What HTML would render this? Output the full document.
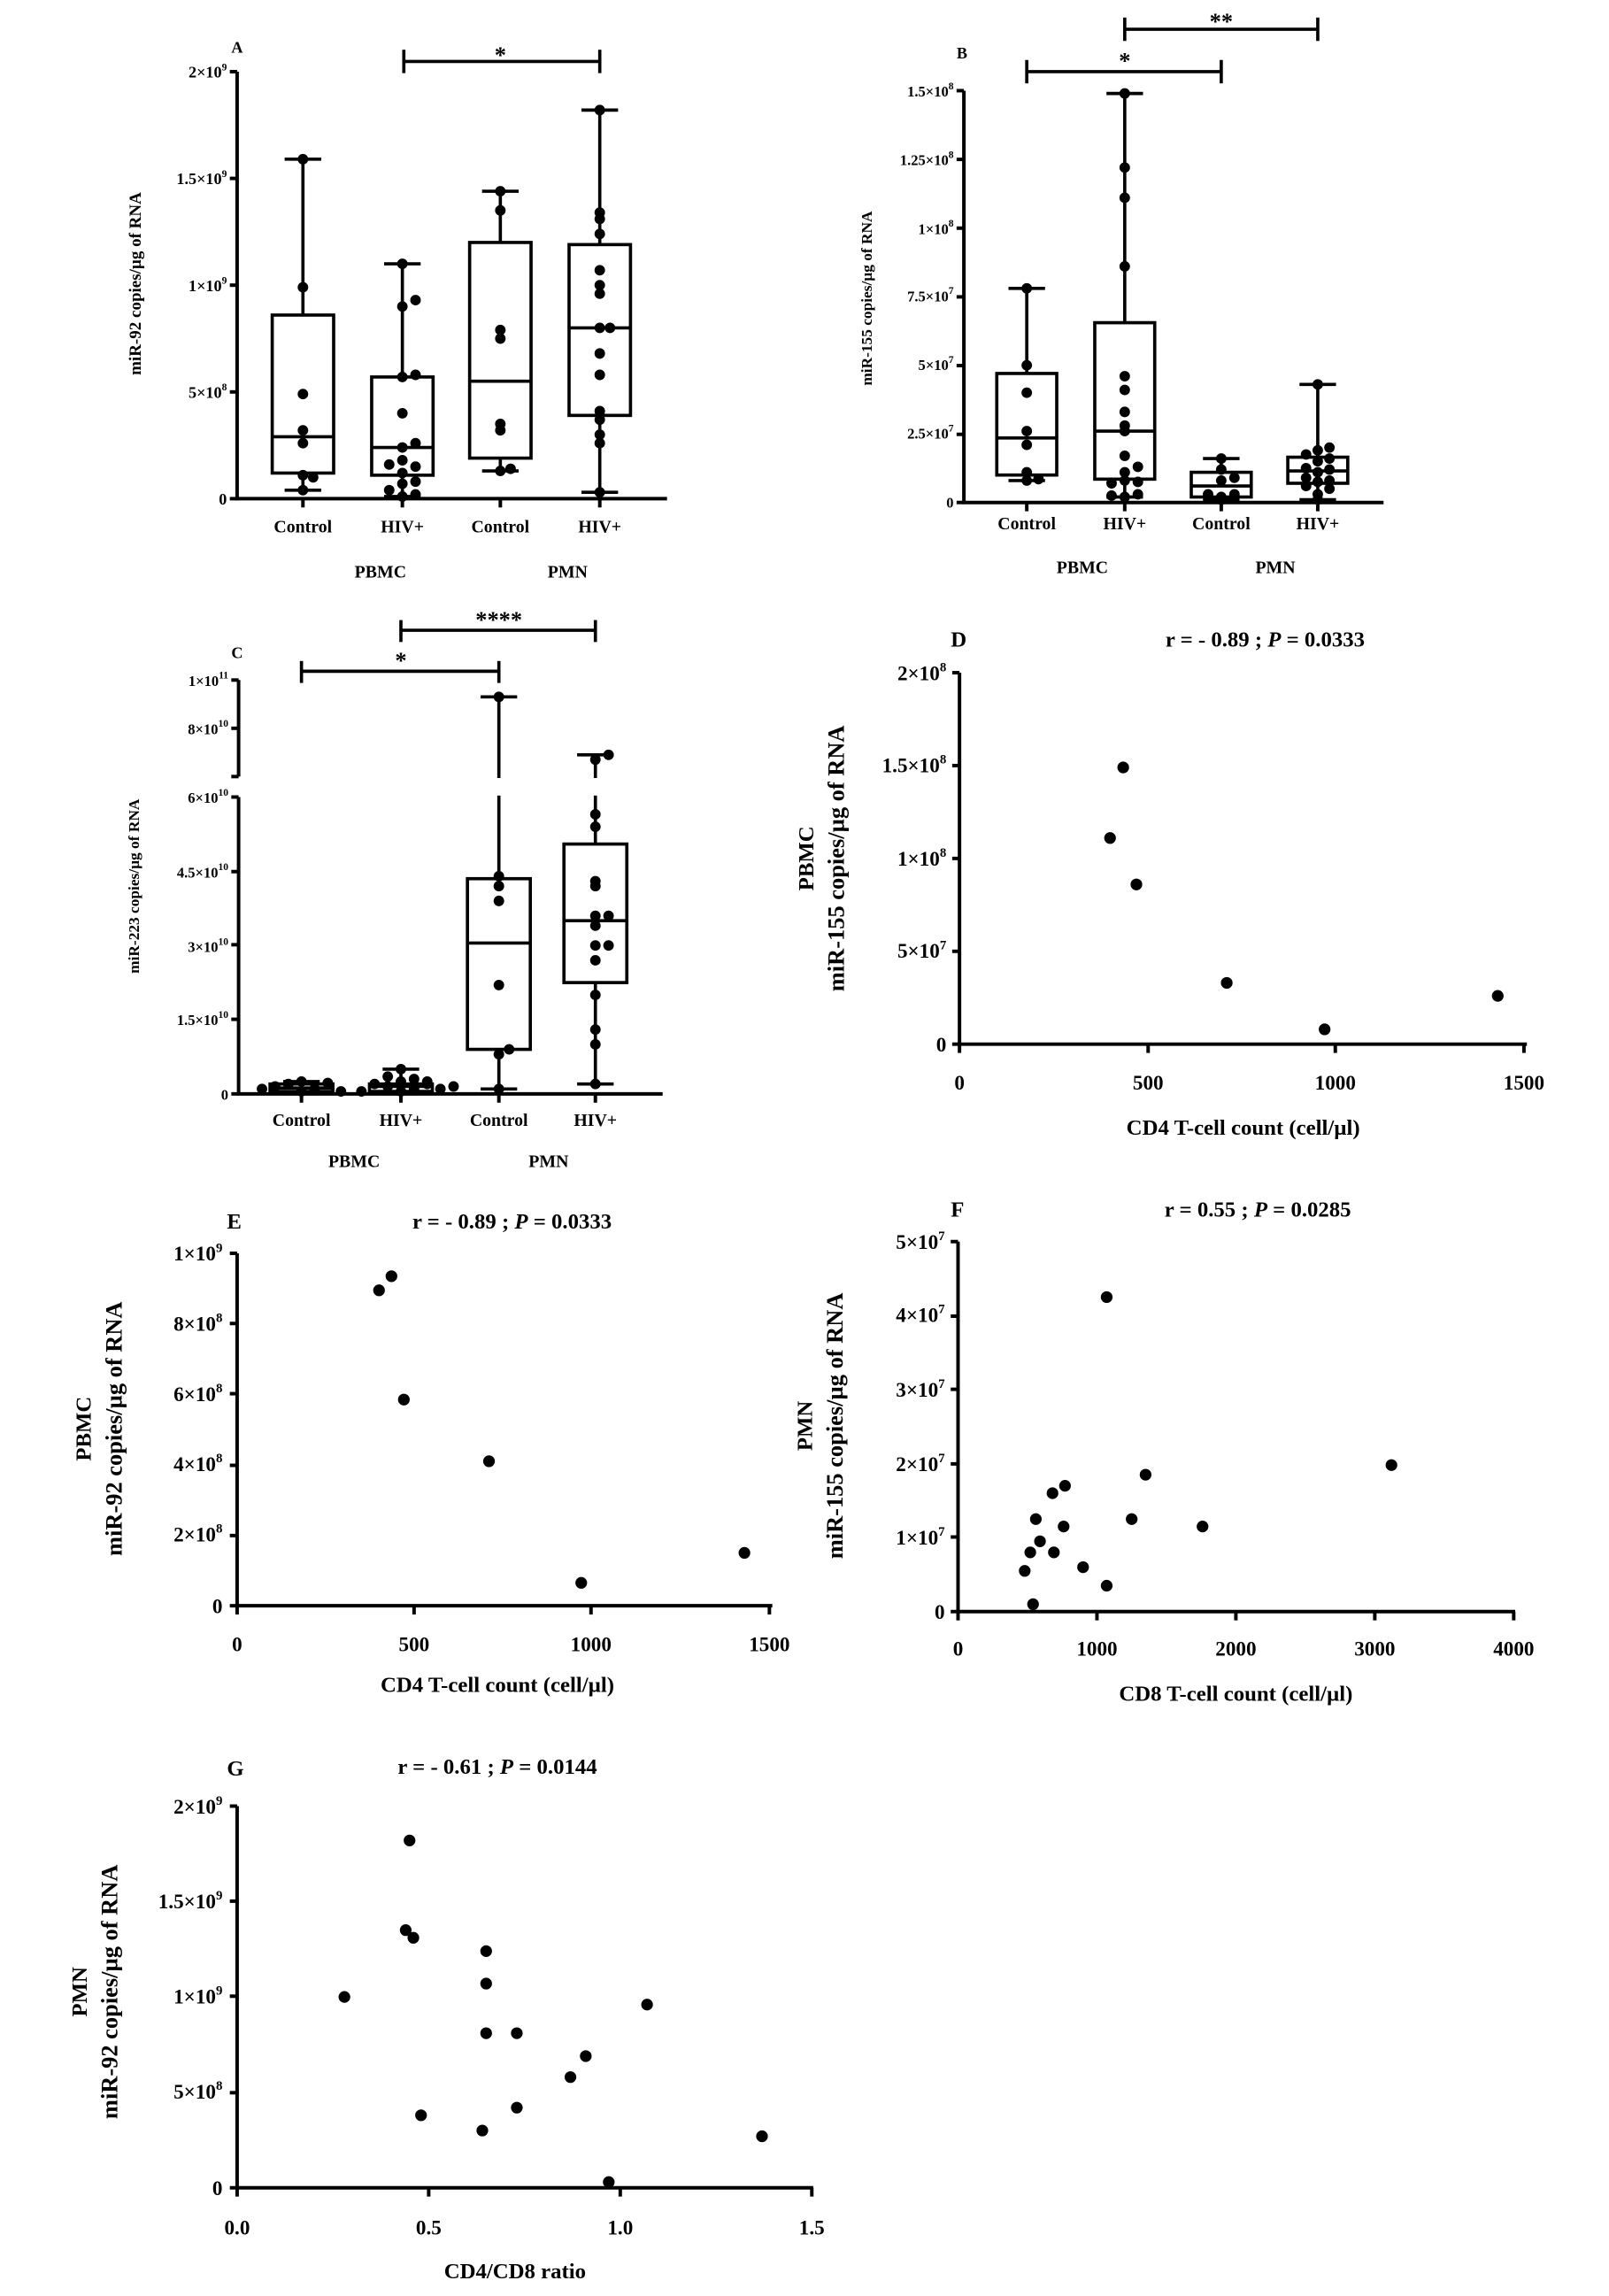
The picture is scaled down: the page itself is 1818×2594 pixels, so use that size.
<!DOCTYPE html>
<html><head><meta charset="utf-8"><style>
html,body{margin:0;padding:0;background:#fff}
svg{display:block}
text{font-family:"Liberation Serif",serif;font-weight:bold;fill:#000}
</style></head><body>
<svg id="s" width="1818" height="2594" viewBox="0 0 1100 1570" xmlns="http://www.w3.org/2000/svg">
<rect width="1100" height="1570" fill="#fff"/>
<g id="shapes" stroke="#000" fill="none" stroke-width="2.2"></g>
<g id="dots" fill="#000"></g>

<!-- Panel A text -->
<g font-size="11">
<text x="158" y="36" font-size="11">A</text>
<text x="342" y="43" font-size="16" text-anchor="middle">*</text>
<g text-anchor="end">
<text x="155" y="53">2×10<tspan dy="-5" font-size="7">9</tspan></text>
<text x="155" y="126">1.5×10<tspan dy="-5" font-size="7">9</tspan></text>
<text x="155" y="199">1×10<tspan dy="-5" font-size="7">9</tspan></text>
<text x="155" y="272">5×10<tspan dy="-5" font-size="7">8</tspan></text>
<text x="155" y="345">0</text>
</g>
<g text-anchor="middle" font-size="12">
<text x="207" y="364">Control</text><text x="275" y="364">HIV+</text>
<text x="342" y="364">Control</text><text x="410" y="364">HIV+</text>
<text x="260" y="395">PBMC</text><text x="388" y="395">PMN</text>
</g>
<text transform="translate(96,194) rotate(-90)" text-anchor="middle" font-size="11.5">miR-92 copies/µg of RNA</text>
</g>

<!-- Panel B text -->
<g font-size="10">
<text x="654" y="40" font-size="11">B</text>
<text x="769" y="47" font-size="16" text-anchor="middle">*</text>
<text x="835" y="20" font-size="16" text-anchor="middle">**</text>
<g text-anchor="end">
<text x="652" y="66">1.5×10<tspan dy="-5" font-size="7">8</tspan></text>
<text x="652" y="113">1.25×10<tspan dy="-5" font-size="7">8</tspan></text>
<text x="652" y="160">1×10<tspan dy="-5" font-size="7">8</tspan></text>
<text x="652" y="206">7.5×10<tspan dy="-5" font-size="7">7</tspan></text>
<text x="652" y="253">5×10<tspan dy="-5" font-size="7">7</tspan></text>
<text x="652" y="300">2.5×10<tspan dy="-5" font-size="7">7</tspan></text>
<text x="652" y="347">0</text>
</g>
<g text-anchor="middle" font-size="12">
<text x="702" y="362">Control</text><text x="769" y="362">HIV+</text>
<text x="835" y="362">Control</text><text x="901" y="362">HIV+</text>
<text x="740" y="392">PBMC</text><text x="872" y="392">PMN</text>
</g>
<text transform="translate(596,204) rotate(-90)" text-anchor="middle" font-size="10.5">miR-155 copies/µg of RNA</text>
</g>

<!-- Panel C text -->
<g font-size="10">
<text x="158" y="450" font-size="11">C</text>
<text x="274" y="457" font-size="16" text-anchor="middle">*</text>
<text x="341" y="429" font-size="16" text-anchor="middle">****</text>
<g text-anchor="end">
<text x="156" y="469">1×10<tspan dy="-5" font-size="7">11</tspan></text>
<text x="156" y="502">8×10<tspan dy="-5" font-size="7">10</tspan></text>
<text x="156" y="549">6×10<tspan dy="-5" font-size="7">10</tspan></text>
<text x="156" y="600">4.5×10<tspan dy="-5" font-size="7">10</tspan></text>
<text x="156" y="651">3×10<tspan dy="-5" font-size="7">10</tspan></text>
<text x="156" y="701">1.5×10<tspan dy="-5" font-size="7">10</tspan></text>
<text x="156" y="752">0</text>
</g>
<g text-anchor="middle" font-size="12">
<text x="206" y="770">Control</text><text x="274" y="770">HIV+</text>
<text x="341" y="770">Control</text><text x="407" y="770">HIV+</text>
<text x="242" y="798">PBMC</text><text x="375" y="798">PMN</text>
</g>
<text transform="translate(95,606) rotate(-90)" text-anchor="middle" font-size="10.5">miR-223 copies/µg of RNA</text>
</g>

<!-- Panel D text -->
<g font-size="15">
<text x="650" y="442" font-size="15">D</text>
<text x="865" y="442" text-anchor="middle">r = - 0.89 ; <tspan font-style="italic">P</tspan> = 0.0333</text>
<g text-anchor="end" font-size="14">
<text x="647" y="465">2×10<tspan dy="-6" font-size="9">8</tspan></text>
<text x="647" y="528">1.5×10<tspan dy="-6" font-size="9">8</tspan></text>
<text x="647" y="592">1×10<tspan dy="-6" font-size="9">8</tspan></text>
<text x="647" y="655">5×10<tspan dy="-6" font-size="9">7</tspan></text>
<text x="647" y="719">0</text>
</g>
<g text-anchor="middle" font-size="14">
<text x="656" y="745">0</text><text x="785" y="745">500</text><text x="913" y="745">1000</text><text x="1042" y="745">1500</text>
</g>
<text x="850" y="776" text-anchor="middle">CD4 T-cell count (cell/µl)</text>
<text transform="translate(577,587) rotate(-90)" text-anchor="middle" font-size="16">miR-155 copies/µg of RNA</text>
<text transform="translate(556,587) rotate(-90)" text-anchor="middle">PBMC</text>
</g>

<!-- Panel E text -->
<g font-size="15">
<text x="155" y="840">E</text>
<text x="350" y="840" text-anchor="middle">r = - 0.89 ; <tspan font-style="italic">P</tspan> = 0.0333</text>
<g text-anchor="end" font-size="14">
<text x="152" y="862">1×10<tspan dy="-6" font-size="9">9</tspan></text>
<text x="152" y="910">8×10<tspan dy="-6" font-size="9">8</tspan></text>
<text x="152" y="958">6×10<tspan dy="-6" font-size="9">8</tspan></text>
<text x="152" y="1006">4×10<tspan dy="-6" font-size="9">8</tspan></text>
<text x="152" y="1054">2×10<tspan dy="-6" font-size="9">8</tspan></text>
<text x="152" y="1103">0</text>
</g>
<g text-anchor="middle" font-size="14">
<text x="162" y="1129">0</text><text x="283" y="1129">500</text><text x="404" y="1129">1000</text><text x="526" y="1129">1500</text>
</g>
<text x="340" y="1157" text-anchor="middle">CD4 T-cell count (cell/µl)</text>
<text transform="translate(83,977) rotate(-90)" text-anchor="middle" font-size="16">miR-92 copies/µg of RNA</text>
<text transform="translate(62,977) rotate(-90)" text-anchor="middle">PBMC</text>
</g>

<!-- Panel F text -->
<g font-size="15">
<text x="650" y="832">F</text>
<text x="860" y="832" text-anchor="middle">r = 0.55 ; <tspan font-style="italic">P</tspan> = 0.0285</text>
<g text-anchor="end" font-size="14">
<text x="646" y="854">5×10<tspan dy="-6" font-size="9">7</tspan></text>
<text x="646" y="904">4×10<tspan dy="-6" font-size="9">7</tspan></text>
<text x="646" y="955">3×10<tspan dy="-6" font-size="9">7</tspan></text>
<text x="646" y="1006">2×10<tspan dy="-6" font-size="9">7</tspan></text>
<text x="646" y="1056">1×10<tspan dy="-6" font-size="9">7</tspan></text>
<text x="646" y="1107">0</text>
</g>
<g text-anchor="middle" font-size="14">
<text x="655" y="1132">0</text><text x="750" y="1132">1000</text><text x="845" y="1132">2000</text><text x="940" y="1132">3000</text><text x="1035" y="1132">4000</text>
</g>
<text x="845" y="1163" text-anchor="middle">CD8 T-cell count  (cell/µl)</text>
<text transform="translate(576,975) rotate(-90)" text-anchor="middle" font-size="16">miR-155 copies/µg of RNA</text>
<text transform="translate(555,975) rotate(-90)" text-anchor="middle">PMN</text>
</g>

<!-- Panel G text -->
<g font-size="15">
<text x="155" y="1214">G</text>
<text x="340" y="1213" text-anchor="middle">r = - 0.61 ; <tspan font-style="italic">P</tspan> = 0.0144</text>
<g text-anchor="end" font-size="14">
<text x="152" y="1240">2×10<tspan dy="-6" font-size="9">9</tspan></text>
<text x="152" y="1305">1.5×10<tspan dy="-6" font-size="9">9</tspan></text>
<text x="152" y="1370">1×10<tspan dy="-6" font-size="9">9</tspan></text>
<text x="152" y="1435">5×10<tspan dy="-6" font-size="9">8</tspan></text>
<text x="152" y="1501">0</text>
</g>
<g text-anchor="middle" font-size="14">
<text x="162" y="1528">0.0</text><text x="293" y="1528">0.5</text><text x="424" y="1528">1.0</text><text x="555" y="1528">1.5</text>
</g>
<text x="352" y="1558" text-anchor="middle">CD4/CD8 ratio</text>
<text transform="translate(80,1362) rotate(-90)" text-anchor="middle" font-size="16">miR-92 copies/µg of RNA</text>
<text transform="translate(59,1362) rotate(-90)" text-anchor="middle">PMN</text>
</g>
</svg>
<script>
var NS="http://www.w3.org/2000/svg",G=document.getElementById("shapes"),D=document.getElementById("dots");
function el(p,t,a){var e=document.createElementNS(NS,t);for(var k in a)e.setAttribute(k,a[k]);p.appendChild(e);return e;}
function L(x1,y1,x2,y2,w){el(G,"line",{x1:x1,y1:y1,x2:x2,y2:y2,"stroke-width":w||2.2});}
function C(x,y,r){el(D,"circle",{cx:x,cy:y,r:r||3.6});}
function box(cx,w,cw,f,q1,m,q3,lo,hi){
 L(cx,f(hi),cx,f(q3));L(cx,f(q1),cx,f(lo));
 L(cx-cw/2,f(hi),cx+cw/2,f(hi));L(cx-cw/2,f(lo),cx+cw/2,f(lo));
 el(G,"rect",{x:cx-w/2,y:f(q3),width:w,height:f(q1)-f(q3)});
 L(cx-w/2,f(m),cx+w/2,f(m));}
function pts(cx,f,vals,sp){var n={};vals.forEach(function(v,i){var k=Math.round(f(v)/8);n[k]=(n[k]||0)+1;var j=n[k]-1;var off=(j%2?1:-1)*Math.ceil(j/2)*sp;C(cx+off,f(v));});}
function axes(x0,y0,ytop,xend,yt,xt){L(x0,ytop,x0,y0+1.1,2.4);L(x0-1.1,y0,xend,y0,2.4);
 yt.forEach(function(y){L(x0-5,y,x0,y,2.4)});xt.forEach(function(x){L(x,y0,x,y0+6,2.4)});}
// Panel A
var fA=function(v){return 341-v*14.6};
axes(162,341,49,456,[49,122,195,268,341],[207,275,342,410]);
L(276,42,410,42);L(276,34,276,50);L(410,34,410,50);
box(207,42,25,fA,1.2,2.9,8.6,0.4,15.9);box(275,42,25,fA,1.1,2.4,5.7,0.1,11);
box(342,42,25,fA,1.9,5.5,12.0,1.3,14.4);box(410,42,25,fA,3.9,8.0,11.9,0.3,18.2);
pts(207,fA,[0.4,1.1,1.0,2.6,3.2,4.9,9.9,15.9],7);
pts(275,fA,[0.1,0.2,0.4,0.7,0.8,1.2,1.5,1.6,1.8,2.4,2.6,4.0,5.7,5.8,9.0,9.3,11.0],9);
pts(342,fA,[1.3,1.4,3.2,3.5,7.5,7.9,13.5,14.4],7);
pts(410,fA,[0.3,2.6,3.0,3.7,4.1,5.8,6.8,8.0,8.0,9.6,10.0,10.7,12.4,13.1,13.4,18.2],7);
// Panel B
var fB=function(v){return 343.6-v*18.77};
axes(659,343.6,62,946,[62,109,156,203,250,297,343.6],[702,769,835,901]);
L(702,49,835,49);L(702,41,702,57);L(835,41,835,57);
L(769,20,901,20);L(769,12,769,28);L(901,12,901,28);
box(702,41,25,fB,1.0,2.35,4.7,0.8,7.8);box(769,41,25,fB,0.85,2.6,6.55,0.2,14.9);
box(835,41,25,fB,0.2,0.6,1.1,0.1,1.6);box(901,41,25,fB,0.7,1.15,1.65,0.1,4.3);
pts(702,fB,[0.8,0.85,1.1,2.1,2.6,4.0,5.0,7.8],8);
pts(769,fB,[0.2,0.3,0.25,0.8,0.75,0.7,1.1,1.3,1.7,2.6,2.8,3.3,4.1,4.6,8.6,11.1,12.2,14.9],9);
pts(835,fB,[0.1,0.2,0.3,0.3,0.8,0.9,1.2,1.6],9);
pts(901,fB,[0.1,0.3,0.5,0.6,0.75,0.8,0.9,1.1,1.2,1.25,1.5,1.6,1.75,1.9,2.0,4.3],8);
// Panel C
var fC=function(v){return v<=6?748-v*33.83:531-(v-6)*16.5};
L(163,465,163,531,2.4);L(163,545,163,749,2.4);L(162,748,453,748,2.4);
[465,498,531,545,596,646,697,748].forEach(function(y){L(158,y,163,y,2.4)});
[206,274,341,407].forEach(function(x){L(x,748,x,754,2.4)});
L(206,459,341,459);L(206,452,206,467);L(341,452,341,467);
L(274,431,407,431);L(274,424,274,439);L(407,424,407,439);
box(206,43,25,fC,0.05,0.12,0.2,0.0,0.25);box(274,43,25,fC,0.05,0.15,0.2,0.0,0.5);
box(341,43,25,fC,0.9,3.05,4.35,0.1,9.3);box(407,43,25,fC,2.25,3.5,5.05,0.2,6.9);
el(document.getElementById("s"),"rect",{x:320,y:532,width:110,height:12,fill:"#fff"});
pts(206,fC,[0.05,0.1,0.2,0.22,0.15,0.25,0.05,0.1],9);
pts(274,fC,[0.05,0.1,0.15,0.2,0.25,0.3,0.35,0.2,0.1,0.05,0.5,0.25,0.15],9);
pts(341,fC,[0.1,0.8,0.9,2.2,3.9,4.2,4.4,9.3],7);
pts(407,fC,[0.2,1.0,1.3,2.0,2.7,3.0,3.0,3.4,3.6,3.6,4.2,4.3,5.4,5.65,6.7,6.9],9);
// Panel D
var dx=function(v){return 656+v/500*128.7},dy=function(v){return 714-v*127};
axes(656,714,460,1044,[460,523.5,587,650.5,714],[656,785,913,1042]);
[[400,1.11],[435,1.49],[470,0.86],[710,0.33],[970,0.08],[1430,0.26]].forEach(function(p){C(dx(p[0]),dy(p[1]),4);});
// Panel E
var ex=function(v){return 162+v/500*121.3},ey=function(v){return 1098-v*24.1};
axes(162,1098,857,528,[857,905,953,1002,1050,1098],[162,283,404,526]);
[[400,8.95],[435,9.35],[470,5.85],[710,4.1],[970,0.65],[1430,1.5]].forEach(function(p){C(ex(p[0]),ey(p[1]),4);});
// Panel F
var fx=function(v){return 655+v/1000*95},fy=function(v){return 1102-v*50.6};
axes(655,1102,849,1036,[849,900,950,1001,1051,1102],[655,750,845,940,1035]);
[[480,0.55],[520,0.8],[540,0.1],[560,1.25],[590,0.95],[680,1.6],[690,0.8],[760,1.15],[770,1.7],[900,0.6],[1070,0.35],[1070,4.25],[1250,1.25],[1350,1.85],[1760,1.15],[3120,1.98]].forEach(function(p){C(fx(p[0]),fy(p[1]),4);});
// Panel G
var gx=function(v){return 162+v*262},gy=function(v){return 1496-v*130.5};
axes(162,1496,1235,556,[1235,1300,1365,1431,1496],[162,293,424,555]);
[[0.28,1.0],[0.45,1.82],[0.44,1.35],[0.46,1.31],[0.48,0.38],[0.64,0.3],[0.65,1.24],[0.65,1.07],[0.65,0.81],[0.73,0.81],[0.73,0.42],[0.87,0.58],[0.91,0.69],[0.97,0.03],[1.07,0.96],[1.37,0.27]].forEach(function(p){C(gx(p[0]),gy(p[1]),4);});
</script>
</body></html>
